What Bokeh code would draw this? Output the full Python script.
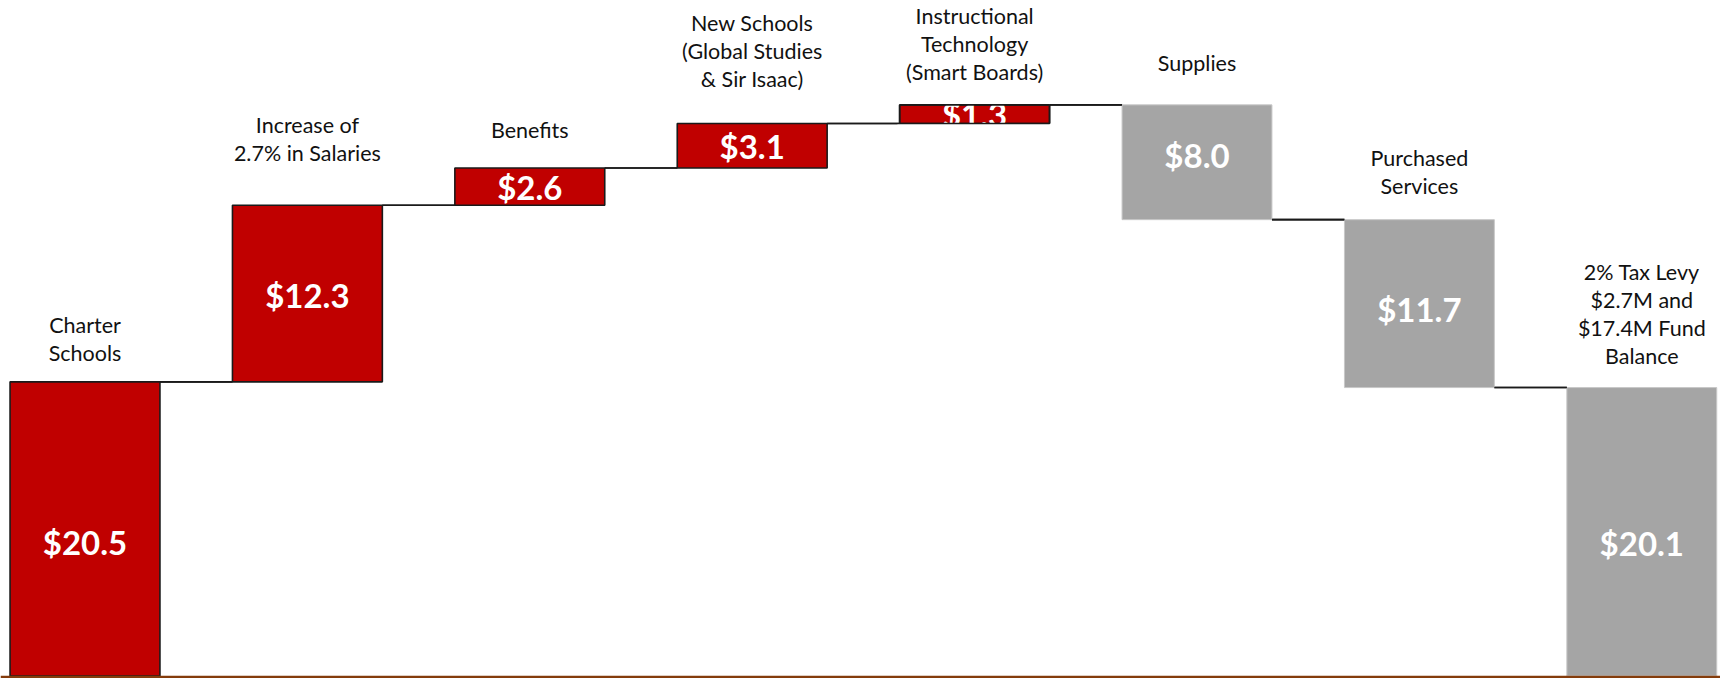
import numpy as np
from bokeh.plotting import figure
from bokeh.models import ColumnDataSource, Range1d, Span
from bokeh.core.properties import value
from bokeh.embed import file_html
from bokeh.resources import INLINE

# ---- data ----
categories = [
    "Charter\nSchools",
    "Increase of\n2.7% in Salaries",
    "Benefits",
    "New Schools\n(Global Studies\n& Sir Isaac)",
    "Instructional\nTechnology\n(Smart Boards)",
    "Supplies",
    "Purchased\nServices",
    "2% Tax Levy\n$2.7M and\n$17.4M Fund\nBalance",
]
amounts = [20.5, 12.3, 2.6, 3.1, 1.3, 8.0, 11.7, 20.1]
kinds = ["total", "increase", "increase", "increase", "increase",
         "decrease", "decrease", "total"]

# ---- layout / style ----
RED = "#C00000"
GREY = "#A5A5A5"
W, H = 1720, 678
PX_X = 222.4          # px per category
PX_Y = 14.35          # px per unit
BASE_PX = 675.5       # px from top where value 0 lies
BAR_W = 0.674
LABEL_GAP = [29, 52, 38, 45, 33, 42, 34, 32]  # px, bar top -> last label line centre
LINE_STEP = 28  # px between label lines
VALUE_SHIFT = [13, 1, 0, 0, 0, -7, 5, 11]  # px, value label offset from bar centre (down)

# waterfall geometry
bottoms, tops = [], []
level = 0.0
for a, k in zip(amounts, kinds):
    if k == "total":
        b, t = 0.0, a
        level = a
    elif k == "increase":
        b, t = level, level + a
        level = t
    else:
        b, t = level - a, level
        level = b
    bottoms.append(b)
    tops.append(t)

x = np.arange(len(amounts), dtype=float)
colors = [RED if i < 5 else GREY for i in range(len(amounts))]
outline = [("#1a1a1a" if c == RED else "#C8C8C8") for c in colors]
outw = [1.6 if c == RED else 1.0 for c in colors]

bar_src = ColumnDataSource(dict(
    left=x - BAR_W / 2, right=x + BAR_W / 2, bottom=bottoms, top=tops,
    color=colors, lc=outline, lw=outw,
    label=["$%.1f" % a for a in amounts],
    mid=[(b + t) / 2 for b, t in zip(bottoms, tops)], x=x,
    shift=VALUE_SHIFT,
))

x0 = -84.5 / PX_X
p = figure(width=W, height=H, output_backend="svg", toolbar_location=None,
           min_border=0, x_range=Range1d(x0, x0 + W / PX_X),
           y_range=Range1d(-(H - BASE_PX) / PX_Y, BASE_PX / PX_Y))
p.axis.visible = False
p.grid.visible = False
p.outline_line_color = None
p.background_fill_color = "white"

# connectors
cx0, cx1, cy = [], [], []
for i in range(len(amounts) - 1):
    lvl = tops[i + 1] if kinds[i + 1] != "increase" else bottoms[i + 1]
    cx0.append(x[i] + BAR_W / 2)
    cx1.append(x[i + 1] - BAR_W / 2)
    cy.append(lvl)
p.segment(x0=cx0, y0=cy, x1=cx1, y1=cy, line_color="#1a1a1a", line_width=1.6)

p.quad(left="left", right="right", bottom="bottom", top="top", source=bar_src,
       fill_color="color", line_color="lc", line_width="lw")

p.text(x="x", y="mid", text="label", y_offset="shift", source=bar_src, text_color="white",
       text_font=value("Lato"), text_font_style="bold", text_font_size="33px",
       text_align="center", text_baseline="middle")

# clip value labels that overflow small bars (white masks), then redraw outlines
small = [i for i in range(len(amounts)) if (tops[i] - bottoms[i]) * PX_Y < 26]
if small:
    ml, mr, mb, mt = [], [], [], []
    for i in small:
        for (b, t) in ((tops[i], tops[i] + 2.0), (bottoms[i] - 2.0, bottoms[i])):
            ml.append(x[i] - BAR_W / 2 - 0.01)
            mr.append(x[i] + BAR_W / 2 + 0.01)
            mb.append(b)
            mt.append(t)
    p.quad(left=ml, right=mr, bottom=mb, top=mt, fill_color="white", line_color=None)
    p.quad(left=[x[i] - BAR_W / 2 for i in small], right=[x[i] + BAR_W / 2 for i in small],
           bottom=[bottoms[i] for i in small], top=[tops[i] for i in small],
           fill_alpha=0, line_color="#1a1a1a", line_width=1.6)
    p.segment(x0=cx0, y0=cy, x1=cx1, y1=cy, line_color="#1a1a1a", line_width=1.6)

# category labels above the bars
lx, ly, lt, lo = [], [], [], []
for i, cat in enumerate(categories):
    lines = cat.split("\n")
    n = len(lines)
    for j, ln in enumerate(lines):
        lx.append(x[i])
        ly.append(tops[i])
        lt.append(ln)
        lo.append(-(LABEL_GAP[i] + (n - 1 - j) * LINE_STEP))
p.text(x=lx, y=ly, text=lt, y_offset=lo, text_color="#111111",
       text_font=value("Lato"), text_font_size="21.5px",
       text_align="center", text_baseline="middle")

# baseline axis line
p.add_layout(Span(location=-(H - BASE_PX) / PX_Y / 2, dimension="width",
                  line_color="#843C0C", line_width=3))

open("out.html", "w").write(file_html(p, INLINE))
